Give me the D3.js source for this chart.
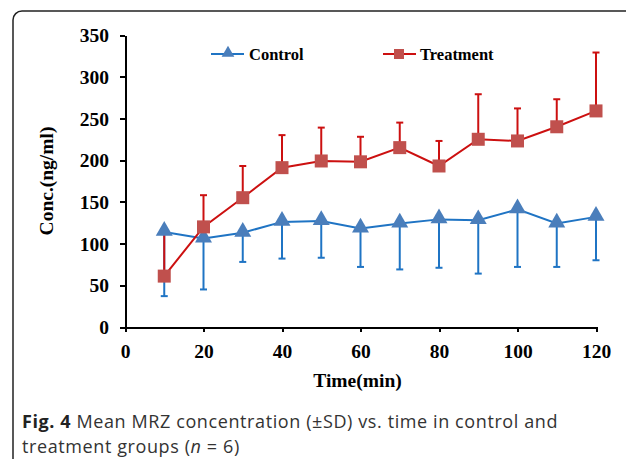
<!DOCTYPE html>
<meta charset="utf-8">
<head>
<style>
body { margin: 0; background: #fff; }
svg { display: block; }
.axis path, .axis line { stroke: #000; stroke-width: 2px; shape-rendering: crispEdges; }
.axis text { font-family: "Liberation Serif", "Times New Roman", serif; font-weight: bold; font-size: 19.5px; fill: #000; }
.title { font-family: "Liberation Serif", "Times New Roman", serif; font-weight: bold; font-size: 19.5px; fill: #000; }
.legend text { font-family: "Liberation Serif", "Times New Roman", serif; font-weight: bold; font-size: 16.5px; fill: #000; }
.caption { font-family: "Open Sans", "Noto Sans", sans-serif; font-size: 18px; letter-spacing: 0.6px; fill: #333; }
</style>
</head>
<body>
<div id="chart"></div>
<script src="https://d3js.org/d3.v7.min.js"></script>
<script>

// data
var times = [10, 20, 30, 40, 50, 60, 70, 80, 90, 100, 110, 120];
var controlMean = [114, 106, 113, 126, 127, 118, 124, 129, 128, 141, 124, 132];
var controlSD = [77, 61, 35, 44, 44, 46, 55, 58, 64, 69, 52, 52];
var treatMean = [61, 120, 155, 191, 199, 198, 215, 193, 225, 223, 240, 259];
var treatSD = [51, 38, 38, 39, 40, 30, 30, 30, 54, 39, 33, 70];
var xTicks = [0, 20, 40, 60, 80, 100, 120];
var yTicks = [0, 50, 100, 150, 200, 250, 300, 350];
var seriesNames = ["Control", "Treatment"];

var W = 626, H = 459;
var margin = {top: 35, right: 30, bottom: 132, left: 125},
    width = W - margin.left - margin.right,
    height = H - margin.top - margin.bottom;

var svg = d3.select("#chart").append("svg")
    .attr("width", W)
    .attr("height", H);

// frame around figure + caption
svg.append("rect")
    .attr("x", 13).attr("y", 11)
    .attr("width", 700).attr("height", 600)
    .attr("rx", 9).attr("ry", 9)
    .attr("fill", "none")
    .attr("stroke", "#222")
    .attr("stroke-width", 1.5);

var g = svg.append("g")
    .attr("transform", "translate(" + margin.left + "," + margin.top + ")");

var x = d3.scaleLinear().domain([0, 120]).range([0, width]);
var y = d3.scaleLinear().domain([0, 350]).range([height, 0]);

g.append("g")
    .attr("class", "axis")
    .attr("transform", "translate(0," + height + ")")
    .call(d3.axisBottom(x).tickValues(xTicks).tickSize(5).tickSizeOuter(0).tickPadding(8))
    .selectAll("text").attr("dy", "0.9em");

g.append("g")
    .attr("class", "axis")
    .call(d3.axisLeft(y).tickValues(yTicks).tickSize(5).tickSizeOuter(0).tickPadding(11))
    .selectAll("text").attr("dy", "0.34em");

// axis titles
svg.append("text")
    .attr("class", "title")
    .attr("x", margin.left + x(60) - 3)
    .attr("y", 387)
    .attr("text-anchor", "middle")
    .text("Time(min)");

svg.append("text")
    .attr("class", "title")
    .attr("transform", "translate(53," + (margin.top + height / 2) + ") rotate(-90)")
    .attr("text-anchor", "middle")
    .text("Conc.(ng/ml)");

var control = times.map(function(t, i) { return {t: t, m: controlMean[i], sd: controlSD[i]}; });
var treat = times.map(function(t, i) { return {t: t, m: treatMean[i], sd: treatSD[i]}; });

var blueLine = "#1F74C4", blueMark = "#4A7EBB";
var redLine = "#CC1010", redMark = "#C0504D";
var cap = 3.5;

// error bars: control only downward, treatment only upward
var cBars = g.append("g");
control.forEach(function(d) {
  var xx = x(d.t), y0 = y(d.m), y1 = y(d.m - d.sd);
  cBars.append("line").attr("x1", xx).attr("x2", xx).attr("y1", y0).attr("y2", y1)
    .attr("stroke", blueLine).attr("stroke-width", 2);
  cBars.append("line").attr("x1", xx - cap).attr("x2", xx + cap).attr("y1", y1).attr("y2", y1)
    .attr("stroke", blueLine).attr("stroke-width", 2);
});
var tBars = g.append("g");
treat.forEach(function(d) {
  var xx = x(d.t), y0 = y(d.m), y1 = y(d.m + d.sd);
  tBars.append("line").attr("x1", xx).attr("x2", xx).attr("y1", y0).attr("y2", y1)
    .attr("stroke", redLine).attr("stroke-width", 2);
  tBars.append("line").attr("x1", xx - cap).attr("x2", xx + cap).attr("y1", y1).attr("y2", y1)
    .attr("stroke", redLine).attr("stroke-width", 2);
});

var line = d3.line().x(function(d) { return x(d.t); }).y(function(d) { return y(d.m); });

g.append("path").datum(control)
    .attr("d", line).attr("fill", "none")
    .attr("stroke", blueLine).attr("stroke-width", 2);

var tri = d3.symbol().type(d3.symbolTriangle).size(125);
g.selectAll(".tri").data(control).enter().append("path")
    .attr("class", "tri")
    .attr("d", tri)
    .attr("transform", function(d) { return "translate(" + x(d.t) + "," + (y(d.m) - 1) + ")"; })
    .attr("fill", blueMark);

g.append("path").datum(treat)
    .attr("d", line).attr("fill", "none")
    .attr("stroke", redLine).attr("stroke-width", 2);

g.selectAll(".sq").data(treat).enter().append("rect")
    .attr("class", "sq")
    .attr("x", function(d) { return x(d.t) - 6.5; })
    .attr("y", function(d) { return y(d.m) - 6.5; })
    .attr("width", 13).attr("height", 13)
    .attr("fill", redMark);

// legend
var legend = svg.append("g").attr("class", "legend");
var lc = legend.append("g").attr("transform", "translate(211,54)");
lc.append("line").attr("x1", 0).attr("x2", 33).attr("stroke", blueLine).attr("stroke-width", 2);
lc.append("path").attr("d", d3.symbol().type(d3.symbolTriangle).size(70)).attr("transform", "translate(17,-1)").attr("fill", blueMark);
lc.append("text").attr("x", 38).attr("y", 6).text(seriesNames[0]);

var lt = legend.append("g").attr("transform", "translate(383,54)");
lt.append("line").attr("x1", 0).attr("x2", 33).attr("stroke", redLine).attr("stroke-width", 2);
lt.append("rect").attr("x", 11).attr("y", -5).attr("width", 10).attr("height", 10).attr("fill", redMark);
lt.append("text").attr("x", 37).attr("y", 6).text(seriesNames[1]);

// caption
var cap1 = svg.append("text").attr("class", "caption").attr("x", 22).attr("y", 428);
cap1.append("tspan").attr("font-weight", "bold").attr("fill", "#222").text("Fig. 4");
cap1.append("tspan").text(" Mean MRZ concentration (\u00B1SD) vs. time in control and");
var cap2 = svg.append("text").attr("class", "caption").attr("x", 22).attr("y", 453);
cap2.append("tspan").text("treatment groups (");
cap2.append("tspan").attr("font-style", "italic").text("n");
cap2.append("tspan").text(" = 6)");

</script>
</body>
</html>
